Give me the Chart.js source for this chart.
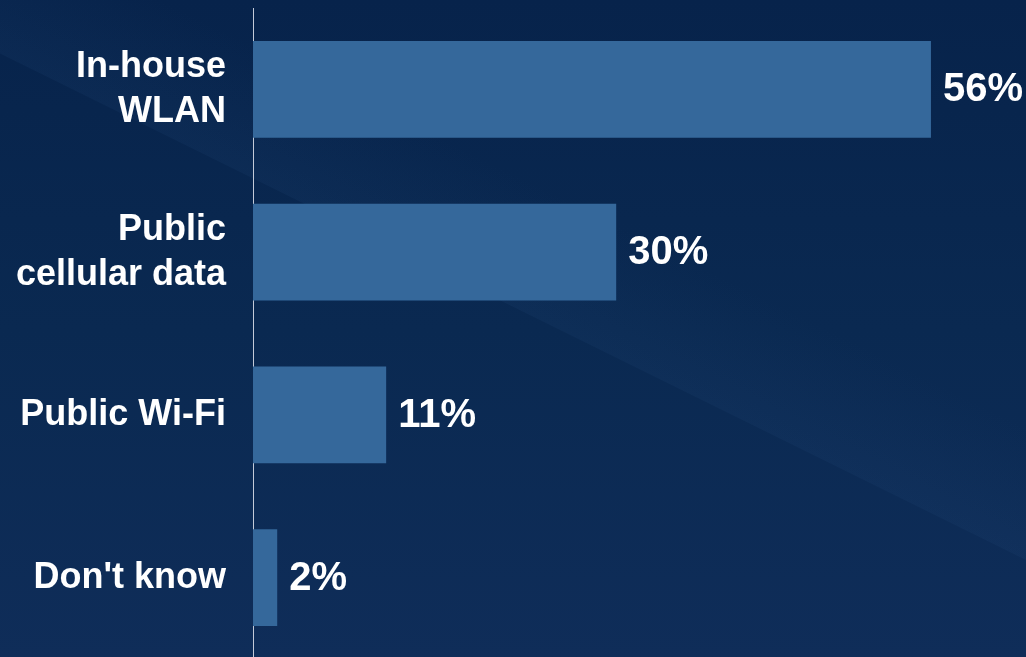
<!DOCTYPE html>
<html>
<head>
<meta charset="utf-8">
<script src="https://cdn.jsdelivr.net/npm/chart.js@4.4.0/dist/chart.umd.min.js"></script>
<style>
    html, body { margin: 0; padding: 0; overflow: hidden; background: #0a2850; }
    #wrap { position: relative; width: 1026px; height: 660px; }
</style>
</head>
<body>
<div id="wrap"><canvas id="barChart"></canvas></div>
<script>
// Chart data
const categories = [['In-house', 'WLAN'], ['Public', 'cellular data'], 'Public Wi-Fi', "Don't know"];
const shares = [56, 30, 11, 2];
const xMax = 63.85;

const FONT = "'Liberation Sans', Arial, sans-serif";

// Dark navy slide background with a faint diagonal sheen
const backgroundPlugin = {
    id: 'slideBackground',
    beforeDraw(chart) {
        const { ctx, width, height } = chart;
        ctx.save();
        const base = ctx.createLinearGradient(0, 0, 0, height);
        base.addColorStop(0, '#07234b');
        base.addColorStop(0.5, '#0a2951');
        base.addColorStop(1, '#0f2d59');
        ctx.fillStyle = base;
        ctx.fillRect(0, 0, width, height);

        // lighter band sitting just above a diagonal edge
        const x0 = 250, y0 = 177, x1 = 1026, y1 = 560;
        const dx = x1 - x0, dy = y1 - y0;
        const len = Math.hypot(dx, dy);
        const nx = dy / len, ny = -dx / len; // normal pointing up-right
        const sheen = ctx.createLinearGradient(x0, y0, x0 + nx * 120, y0 + ny * 120);
        sheen.addColorStop(0, 'rgba(40, 80, 130, 0.13)');
        sheen.addColorStop(1, 'rgba(40, 80, 130, 0)');
        ctx.fillStyle = sheen;
        ctx.beginPath();
        ctx.moveTo(x0 - dx, y0 - dy);
        ctx.lineTo(x1 + dx, y1 + dy);
        ctx.lineTo(x1 + dx + nx * 400, y1 + dy + ny * 400);
        ctx.lineTo(x0 - dx + nx * 400, y0 - dy + ny * 400);
        ctx.closePath();
        ctx.fill();
        ctx.restore();
    }
};

// Percent labels at the end of each bar
const valueLabelPlugin = {
    id: 'valueLabels',
    afterDatasetsDraw(chart) {
        const { ctx } = chart;
        const meta = chart.getDatasetMeta(0);
        ctx.save();
        ctx.fillStyle = '#ffffff';
        ctx.font = `bold 40px ${FONT}`;
        ctx.textAlign = 'left';
        ctx.textBaseline = 'middle';
        meta.data.forEach((bar, i) => {
            ctx.fillText(shares[i] + '%', bar.x + 12, bar.y + 1);
        });
        ctx.restore();
    }
};

new Chart(document.getElementById('barChart'), {
    type: 'bar',
    data: {
        labels: categories,
        datasets: [{
            data: shares,
            backgroundColor: '#35689b',
            borderWidth: 0,
            categoryPercentage: 1,
            barPercentage: 0.593
        }]
    },
    options: {
        indexAxis: 'y',
        responsive: true,
        maintainAspectRatio: false,
        animation: false,
        layout: {
            padding: { top: 8, bottom: 1, left: 0, right: 0 }
        },
        plugins: {
            legend: { display: false },
            tooltip: { enabled: false }
        },
        scales: {
            x: {
                display: false,
                min: 0,
                max: xMax
            },
            y: {
                grid: { display: false, drawTicks: false },
                border: { display: true, color: '#c3cad8', width: 1 },
                ticks: {
                    color: '#ffffff',
                    padding: 27,
                    font: { family: FONT, size: 36, weight: 'bold', lineHeight: 1.25 }
                },
                afterFit: (scale) => {
                    scale.width = 253;
                    // don't reserve room for half a label above/below the plot
                    scale.paddingTop = 0;
                    scale.paddingBottom = 0;
                }
            }
        }
    },
    plugins: [backgroundPlugin, valueLabelPlugin]
});
</script>
</body>
</html>
